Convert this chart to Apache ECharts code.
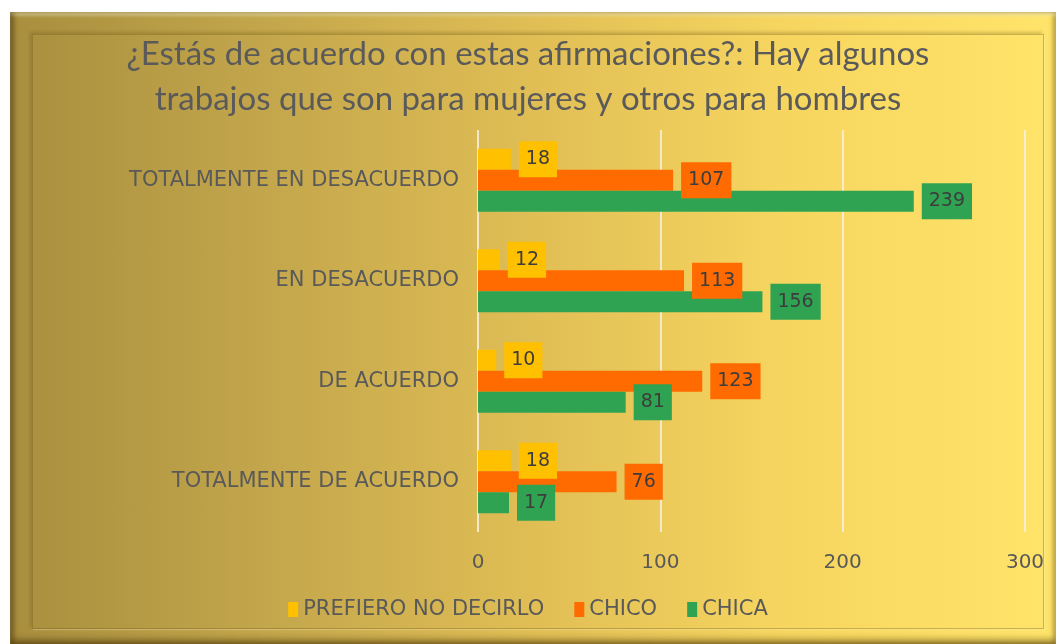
<!DOCTYPE html>
<html>
<head>
<meta charset="utf-8">
<script src="https://cdn.jsdelivr.net/npm/echarts@6/dist/echarts.min.js"></script>
<style>
  html, body { margin: 0; padding: 0; background: #fff; }
  .panel {
    position: absolute; left: 10px; top: 12px; width: 1046px; height: 632px;
    background: linear-gradient(90deg, #a88e3e 0%, #c4a74c 25%, #e0be55 50%, #f7d660 75%, #ffe46a 100%);
    box-shadow: inset 4px 0 5px rgba(60, 40, 0, 0.4), inset 0 4px 3px rgba(255, 250, 210, 0.45), inset 0 -5px 6px rgba(60, 40, 0, 0.4), inset -3px 0 4px rgba(90, 70, 0, 0.3);
  }
  .inner {
    position: absolute; left: 32px; top: 34px; width: 1010px; height: 593px;
    border: 1px solid rgba(110, 85, 20, 0.35);
    box-shadow: -2px -2px 3px rgba(90, 70, 10, 0.25), 1px 1px 1px rgba(255, 245, 200, 0.3);
  }
  #chart { position: absolute; left: 0; top: 0; width: 1056px; height: 644px; }
</style>
</head>
<body>
<div class="panel"></div>
<div class="inner"></div>
<div id="chart"></div>
<script>
  // valores
  const categorias = ['TOTALMENTE EN DESACUERDO', 'EN DESACUERDO', 'DE ACUERDO', 'TOTALMENTE DE ACUERDO'];
  const prefieroNoDecirlo = [18, 12, 10, 18];
  const chico = [107, 113, 123, 76];
  const chica = [239, 156, 81, 17];
  const ticksX = [0, 100, 200, 300];

  const txt = '#595959';
  const font = 'DejaVu Sans';

  const mkSerie = (name, data, color) => ({
    name: name,
    type: 'bar',
    data: data,
    barWidth: 21,
    barGap: '0%',
    itemStyle: { color: color },
    label: {
      show: true,
      position: 'right',
      distance: 8,
      backgroundColor: color,
      padding: [9, 7, 8, 7],
      color: '#3d3d3d',
      fontFamily: font,
      fontSize: 19,
    }
  });

  const chart = echarts.init(document.getElementById('chart'));
  chart.setOption({
    backgroundColor: 'transparent',
    animation: false,
    title: {
      text: '¿Estás de acuerdo con estas afirmaciones?: Hay algunos\ntrabajos que son para mujeres y otros para hombres',
      left: 'center',
      top: 27,
      textStyle: {
        fontFamily: 'Lato',
        fontWeight: 'normal',
        fontSize: 33,
        lineHeight: 45,
        color: '#5a5a5a'
      }
    },
    legend: {
      bottom: 19,
      left: 'center',
      icon: 'rect',
      itemWidth: 10,
      itemHeight: 15,
      itemGap: 30,
      textStyle: { fontFamily: font, fontSize: 21, color: txt }
    },
    grid: {
      left: 478,
      right: 31,
      top: 130,
      bottom: 112,
    },
    xAxis: {
      type: 'value',
      min: ticksX[0],
      max: ticksX[ticksX.length - 1],
      interval: 100,
      axisLine: { show: false },
      axisTick: { show: false },
      axisLabel: { fontFamily: font, fontSize: 20, color: txt, margin: 21 },
      splitLine: { lineStyle: { color: 'rgba(245, 240, 225, 0.85)', width: 2 } }
    },
    yAxis: {
      type: 'category',
      inverse: true,
      data: categorias,
      axisLine: { show: false },
      axisTick: { show: false },
      axisLabel: { fontFamily: font, fontSize: 21, color: txt, margin: 19 }
    },
    series: [
      mkSerie('PREFIERO NO DECIRLO', prefieroNoDecirlo, '#ffc000'),
      mkSerie('CHICO', chico, '#ff6b00'),
      mkSerie('CHICA', chica, '#2fa352'),
    ]
  });
</script>
</body>
</html>
